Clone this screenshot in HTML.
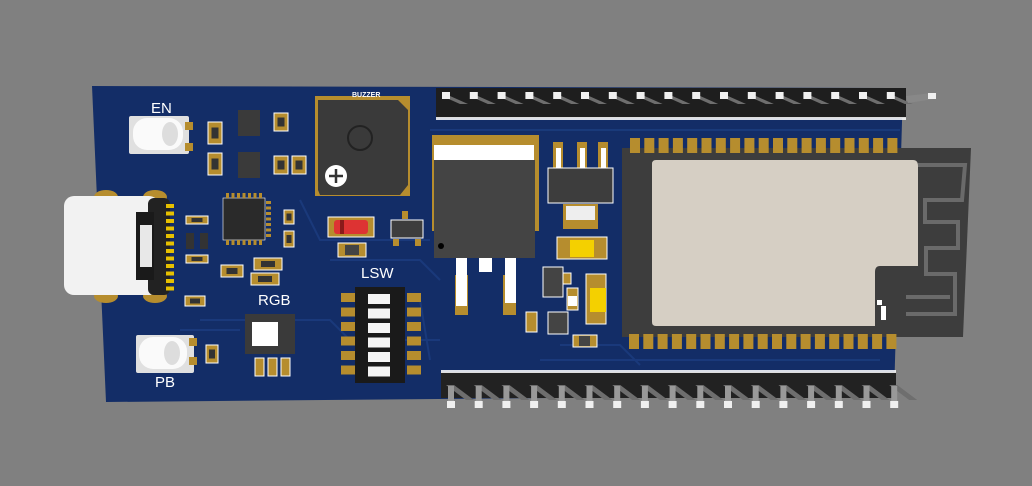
<!DOCTYPE html>
<html><head><meta charset="utf-8"><style>
html,body{margin:0;padding:0;background:#808080;}
svg{display:block}
text{font-family:"Liberation Sans",sans-serif;fill:#fff}
</style></head><body>
<svg id="s" width="1032" height="486" viewBox="0 0 1032 486" xmlns="http://www.w3.org/2000/svg">
<rect width="1032" height="486" fill="#808080"/>
<polygon points="92,86 903,88 894,395 106,402" fill="#132d67"/>
<g stroke="#1c3d80" stroke-width="2" fill="none" opacity="0.8">
<path d="M200,320 L330,320 L350,340 L440,340"/><path d="M300,200 L320,240 L430,240"/>
<path d="M540,360 L880,360"/><path d="M560,345 L620,345 L640,365"/>
<path d="M430,130 L900,130"/><path d="M330,260 L420,260 L440,280"/>
<path d="M180,330 L240,330"/><path d="M420,300 L430,360"/>
</g>
<rect x="436" y="88" width="470" height="30" fill="#1e1e1e"/>
<rect x="436" y="117" width="470" height="3" fill="#fff" opacity=".85"/>
<g id="tp"></g>
<rect x="441" y="372" width="455" height="26" fill="#222"/>
<rect x="441" y="370" width="455" height="3" fill="#fff" opacity=".85"/>
<g id="bp"></g>
<polygon points="622,148 971,148 963,337 622,337" fill="#3d3d3d"/>
<g fill="none" stroke="#6a6a6a" stroke-width="4">
<path d="M918,165 L965,165 L962,200 L925,200 L925,222 L958,222 L958,248 L926,248 L926,274 L955,274 L955,314 L906,314"/>
<path d="M906,297 L950,297"/>
</g>
<path d="M656,160 L913,160 Q918,160 918,166 L918,266 L880,266 Q875,266 875,272 L875,326 L656,326 Q652,326 652,322 L652,164 Q652,160 656,160Z" fill="#d6cfc4"/>
<rect x="877" y="300" width="5" height="5" fill="#fff"/><rect x="881" y="306" width="5" height="14" fill="#fff"/>
<g id="mp"></g>
<rect x="432" y="135" width="107" height="96" fill="#b68d2e"/>
<rect x="434" y="145" width="100" height="15" fill="#fff"/>
<rect x="434" y="160" width="101" height="98" fill="#444"/>
<circle cx="441" cy="246" r="3" fill="#000"/>
<rect x="455" y="275" width="13" height="40" fill="#b68d2e"/><rect x="503" y="275" width="13" height="40" fill="#b68d2e"/>
<rect x="456" y="258" width="11" height="48" fill="#fff"/><rect x="479" y="258" width="13" height="14" fill="#fff"/><rect x="505" y="258" width="11" height="45" fill="#fff"/>
<rect x="553" y="142" width="10" height="28" fill="#b68d2e"/><rect x="577" y="142" width="10" height="28" fill="#b68d2e"/><rect x="598" y="142" width="10" height="28" fill="#b68d2e"/>
<rect x="556" y="148" width="5" height="20" fill="#fff"/><rect x="580" y="148" width="5" height="20" fill="#fff"/><rect x="601" y="148" width="5" height="20" fill="#fff"/>
<rect x="548" y="168" width="65" height="35" fill="#3d3d3d" stroke="#fff" stroke-width="1"/>
<rect x="563" y="204" width="35" height="25" fill="#b68d2e"/><rect x="566" y="206" width="29" height="14" fill="#eee"/>
<rect x="557" y="237" width="50" height="22" fill="#b68d2e" stroke="#fff"/><rect x="570" y="240" width="24" height="17" fill="#f4d000"/>
<rect x="586" y="274" width="20" height="50" fill="#b68d2e" stroke="#fff"/><rect x="590" y="288" width="16" height="24" fill="#f4d000"/>
<rect x="567" y="288" width="11" height="22" fill="#b68d2e" stroke="#fff"/><rect x="568" y="296" width="9" height="10" fill="#fff"/>
<rect x="573" y="335" width="24" height="12" fill="#b68d2e" stroke="#fff"/><rect x="579" y="336" width="11" height="10" fill="#444"/>
<rect x="543" y="267" width="20" height="30" fill="#444" stroke="#fff"/>
<rect x="563" y="273" width="8" height="11" fill="#b68d2e" stroke="#fff"/>
<rect x="548" y="312" width="20" height="22" fill="#444" stroke="#fff"/>
<rect x="526" y="312" width="11" height="20" fill="#b68d2e" stroke="#fff"/>
<rect x="315" y="96" width="95" height="100" fill="#b68d2e"/>
<polygon points="318,100 398,100 408,110 408,185 400,195 320,195 318,190" fill="#3a3a3a"/>
<circle cx="360" cy="138" r="12" fill="none" stroke="#222" stroke-width="2"/>
<circle cx="336" cy="176" r="11" fill="#fff"/>
<path d="M336,169 V183 M329,176 H343" stroke="#333" stroke-width="2.5"/>
<text x="352" y="97" font-size="7" font-weight="bold">BUZZER</text>
<rect x="328" y="217" width="46" height="20" fill="#b68d2e" stroke="#fff"/>
<rect x="334" y="220" width="34" height="14" fill="#d33" rx="3"/><rect x="340" y="220" width="4" height="14" fill="#8a1a1a"/>
<rect x="338" y="243" width="28" height="14" fill="#b68d2e" stroke="#fff"/><rect x="345" y="245" width="14" height="10" fill="#444"/>
<rect x="391" y="220" width="32" height="18" fill="#3d3d3d" stroke="#fff"/>
<rect x="402" y="211" width="6" height="8" fill="#b68d2e"/><rect x="393" y="239" width="6" height="7" fill="#b68d2e"/><rect x="415" y="239" width="6" height="7" fill="#b68d2e"/>
<text x="361" y="278" font-size="15">LSW</text>
<rect x="355" y="287" width="50" height="96" fill="#1a1a1a"/>
<g id="dip"></g>
<ellipse cx="106" cy="197" rx="12" ry="7" fill="#b68d2e"/><ellipse cx="155" cy="197" rx="12" ry="7" fill="#b68d2e"/>
<ellipse cx="106" cy="296" rx="12" ry="7" fill="#b68d2e"/><ellipse cx="155" cy="296" rx="12" ry="7" fill="#b68d2e"/>
<rect x="64" y="196" width="95" height="99" rx="10" fill="#f2f2f2"/>
<rect x="148" y="198" width="22" height="97" rx="6" fill="#222"/>
<rect x="136" y="212" width="18" height="68" fill="#1a1a1a"/>
<rect x="140" y="225" width="12" height="42" fill="#e8e8e8"/>
<g id="usbp"></g>
<rect x="129" y="116" width="60" height="38" fill="#e0e0e0" rx="2"/><rect x="185" y="122" width="8" height="8" fill="#b68d2e"/><rect x="185" y="143" width="8" height="8" fill="#b68d2e"/>
<rect x="133" y="118" width="50" height="32" rx="14" fill="#fafafa"/><ellipse cx="170" cy="134" rx="8" ry="12" fill="#ddd"/>
<text x="151" y="113" font-size="15">EN</text>
<rect x="136" y="335" width="58" height="38" fill="#e0e0e0" rx="2"/><rect x="189" y="338" width="8" height="8" fill="#b68d2e"/><rect x="189" y="357" width="8" height="8" fill="#b68d2e"/>
<rect x="139" y="337" width="48" height="32" rx="14" fill="#fafafa"/><ellipse cx="172" cy="353" rx="8" ry="12" fill="#ddd"/>
<text x="155" y="387" font-size="15">PB</text>
<rect x="223" y="198" width="42" height="42" fill="#2a2a2a" stroke="#fff" stroke-width=".6"/>
<g id="qfn"></g>
<text x="258" y="305" font-size="15">RGB</text>
<rect x="245" y="314" width="50" height="40" fill="#3a3a3a"/><rect x="252" y="322" width="26" height="24" fill="#fff"/>
<rect x="255" y="358" width="9" height="18" fill="#b68d2e" stroke="#fff"/><rect x="268" y="358" width="9" height="18" fill="#b68d2e" stroke="#fff"/><rect x="281" y="358" width="9" height="18" fill="#b68d2e" stroke="#fff"/>
<g id="sm"></g>
</svg>
<script>
var S="http://www.w3.org/2000/svg";
function el(g,t,a){var e=document.createElementNS(S,t);for(var k in a)e.setAttribute(k,a[k]);document.getElementById(g).appendChild(e);}
function r(g,x,y,w,h,f,st){var a={x:x,y:y,width:w,height:h,fill:f};if(st)a.stroke=st;el(g,"rect",a);}
for(var i=0;i<17;i++){var x=440+i*27.8;
 el("tp","polygon",{points:(x+2)+",96 "+(x+10)+",96 "+(x+28)+",104 "+(x+20)+",104",fill:"#6e6e6e"});
 r("tp",x+2,92,8,7,"#f0f0f0");}
el("tp","polygon",{points:"906,96 932,93 934,99 908,103",fill:"#888"});r("tp",928,93,8,6,"#f0f0f0");
for(var i=0;i<17;i++){var x=446+i*27.7;
 el("bp","polygon",{points:(x)+",385 "+(x+8)+",385 "+(x+28)+",400 "+(x+20)+",400",fill:"#6e6e6e"});
 r("bp",x+2,386,6,16,"#999");r("bp",x+1,401,8,7,"#f0f0f0");}
for(var i=0;i<19;i++){var x=630+i*14.3;r("mp",x,138,10,15,"#b68d2e");r("mp",x-1,334,10,15,"#b68d2e");}
for(var i=0;i<6;i++){var y=293+i*14.5;r("dip",341,y,14,9,"#b68d2e");r("dip",407,y,14,9,"#b68d2e");r("dip",368,y+1,22,10,"#f4f4f4");}
for(var i=0;i<12;i++){r("usbp",166,204+i*7.5,8,4,"#e6c000");}
for(var i=0;i<7;i++){r("qfn",226+i*5.5,193,3,5,"#b68d2e");r("qfn",226+i*5.5,240,3,5,"#b68d2e");r("qfn",266,201+i*5.5,5,3,"#b68d2e");}
var sm=[[208,122,14,22],[208,153,14,22],[274,113,14,18],[274,156,14,18],[292,156,14,18],[186,216,22,8],[186,255,22,8],[221,265,22,12],[254,258,28,12],[251,273,28,12],[185,296,20,10],[284,210,10,14],[284,231,10,16],[206,345,12,18]];
sm.forEach(function(a){r("sm",a[0],a[1],a[2],a[3],"#b68d2e","#fff");r("sm",a[0]+a[2]*0.25,a[1]+a[3]*0.25,a[2]*0.5,a[3]*0.5,"#333");});
r("sm",238,110,22,26,"#3a3a3a");r("sm",238,152,22,26,"#3a3a3a");r("sm",186,233,8,16,"#333");r("sm",200,233,8,16,"#333");
</script>
</body></html>
